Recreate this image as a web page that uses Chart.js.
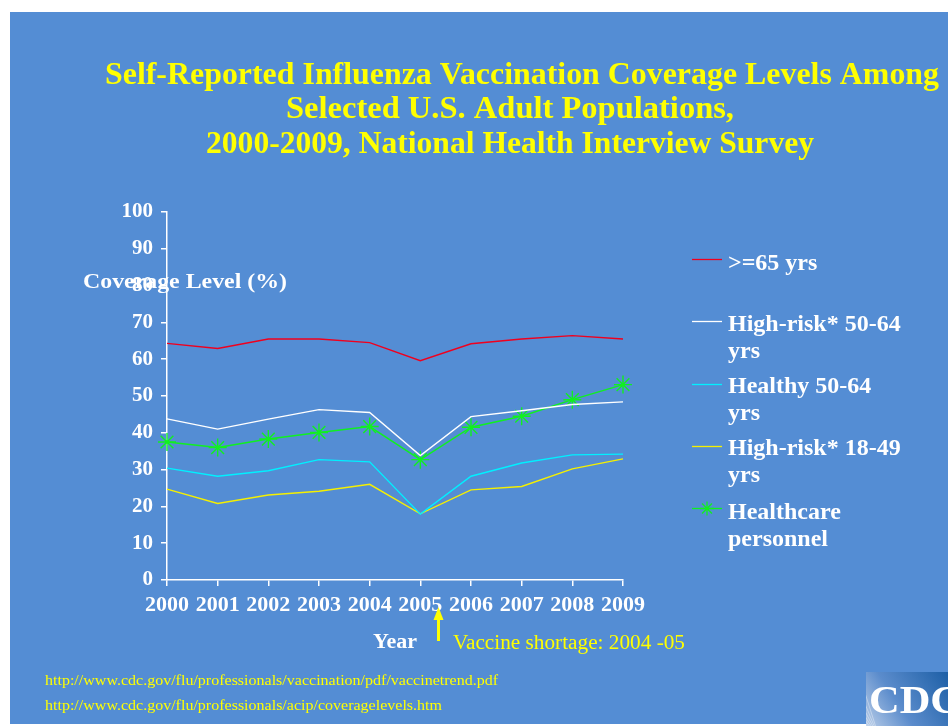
<!DOCTYPE html>
<html>
<head>
<meta charset="utf-8">
<script src="https://cdn.jsdelivr.net/npm/chart.js@4"></script>
<style>
html,body{margin:0;padding:0;background:#fff;}
canvas{display:block;}
</style>
</head>
<body>
<canvas id="c" width="948" height="726" style="width:948px;height:726px"></canvas>
<script>
const years = ['2000','2001','2002','2003','2004','2005','2006','2007','2008','2009'];
const over65 = [64.3, 62.9, 65.5, 65.5, 64.5, 59.6, 64.2, 65.5, 66.4, 65.5];
const highRisk5064 = [43.8, 41.0, 43.7, 46.3, 45.5, 33.8, 44.4, 46.0, 47.7, 48.4];
const healthy5064 = [30.4, 28.2, 29.7, 32.7, 32.1, 17.9, 28.2, 31.8, 34.0, 34.2];
const highRisk1849 = [24.7, 20.8, 23.1, 24.1, 26.0, 18.0, 24.5, 25.4, 30.2, 32.9];
const healthcare = [37.5, 36.0, 38.3, 40.1, 41.7, 32.7, 41.5, 44.5, 49.0, 53.1];
const seriesNames = [['>=65 yrs'], ['High-risk* 50-64','yrs'], ['Healthy 50-64','yrs'], ['High-risk* 18-49','yrs'], ['Healthcare','personnel']];
const titleLines = ['Self-Reported Influenza Vaccination Coverage Levels Among','Selected U.S. Adult Populations,','2000-2009, National Health Interview Survey'];
const yTicks = [0,10,20,30,40,50,60,70,80,90,100];

const BG = '#548DD4';
const SERIF = '"Liberation Serif", "Times New Roman", serif';

function fitText(ctx, text, x, y, font, width, align, color) {
  ctx.save();
  ctx.font = font;
  ctx.fillStyle = color;
  ctx.textBaseline = 'alphabetic';
  const w = ctx.measureText(text).width;
  const s = width ? width / w : 1;
  let x0 = x;
  if (align === 'center') x0 = x - (w * s) / 2;
  else if (align === 'right') x0 = x - w * s;
  ctx.translate(x0, y);
  ctx.scale(s, 1);
  ctx.textAlign = 'left';
  ctx.fillText(text, 0, 0);
  ctx.restore();
}

const decor = {
  id: 'decor',
  beforeDraw(chart) {
    const ctx = chart.ctx;
    ctx.save();
    ctx.fillStyle = '#ffffff';
    ctx.fillRect(0, 0, 948, 726);
    ctx.fillStyle = BG;
    ctx.fillRect(10, 12, 938, 712);
    ctx.restore();
  },
  afterDraw(chart) {
    const ctx = chart.ctx;
    // Title
    fitText(ctx, titleLines[0], 522, 84, 'bold 32px ' + SERIF, 834, 'center', '#FFFF00');
    fitText(ctx, titleLines[1], 510, 118, 'bold 32px ' + SERIF, 448, 'center', '#FFFF00');
    fitText(ctx, titleLines[2], 510, 153, 'bold 32px ' + SERIF, 608, 'center', '#FFFF00');
    // Y axis title
    fitText(ctx, 'Coverage Level (%)', 83, 288, 'bold 22px ' + SERIF, 204, 'left', '#FFFFFF');
    // X axis title
    fitText(ctx, 'Year', 373, 648, 'bold 20px ' + SERIF, 44, 'left', '#FFFFFF');
    // annotation
    fitText(ctx, 'Vaccine shortage: 2004 -05', 453, 649, '20px ' + SERIF, 232, 'left', '#FFFF00');
    // arrow
    ctx.save();
    ctx.strokeStyle = '#FFFF00';
    ctx.fillStyle = '#FFFF00';
    ctx.lineWidth = 3;
    ctx.beginPath();
    ctx.moveTo(438.5, 641);
    ctx.lineTo(438.5, 618);
    ctx.stroke();
    ctx.beginPath();
    ctx.moveTo(438.5, 607);
    ctx.lineTo(433.5, 620);
    ctx.lineTo(443.5, 620);
    ctx.closePath();
    ctx.fill();
    ctx.restore();
    // URLs
    fitText(ctx, 'http://www.cdc.gov/flu/professionals/vaccination/pdf/vaccinetrend.pdf', 45, 685, '14px ' + SERIF, 453, 'left', '#FFFF00');
    fitText(ctx, 'http://www.cdc.gov/flu/professionals/acip/coveragelevels.htm', 45, 710, '14px ' + SERIF, 397, 'left', '#FFFF00');
    // CDC logo
    ctx.save();
    const g = ctx.createLinearGradient(948, 672, 866, 726);
    g.addColorStop(0, '#1d5fa6');
    g.addColorStop(0.6, '#5b8ccc');
    g.addColorStop(1, '#b9cde8');
    ctx.fillStyle = g;
    ctx.fillRect(866, 672, 82, 54);
    ctx.beginPath();
    ctx.rect(866, 672, 82, 54);
    ctx.clip();
    ctx.strokeStyle = 'rgba(255,255,255,0.35)';
    ctx.lineWidth = 1;
    for (let i = 0; i < 14; i++) {
      const a = Math.PI * 1.05 + i * 0.085;
      ctx.beginPath();
      ctx.moveTo(880, 740);
      ctx.lineTo(880 + Math.cos(a) * 120, 740 + Math.sin(a) * 120);
      ctx.stroke();
    }
    ctx.restore();
    fitText(ctx, 'CDC', 869, 713, 'bold 40px ' + SERIF, 92, 'left', '#FFFFFF');
    // Legend
    const ds = chart.data.datasets;
    const legendY = [259, 321, 384, 446, 508];
    const textY = [[270], [331, 358], [393, 420], [455, 482], [519, 546]];
    ds.forEach((d, i) => {
      ctx.save();
      ctx.strokeStyle = d.borderColor;
      ctx.lineWidth = 1.3;
      ctx.beginPath();
      ctx.moveTo(692, legendY[i] + 0.5);
      ctx.lineTo(722, legendY[i] + 0.5);
      ctx.stroke();
      if (d.pointStyle === 'star') {
        const cx = 707, cy = legendY[i] + 0.5, r = 7;
        ctx.beginPath();
        for (let k = 0; k < 4; k++) {
          const a = k * Math.PI / 4;
          ctx.moveTo(cx - Math.cos(a) * r, cy - Math.sin(a) * r);
          ctx.lineTo(cx + Math.cos(a) * r, cy + Math.sin(a) * r);
        }
        ctx.stroke();
      }
      ctx.restore();
      seriesNames[i].forEach((t, j) => {
        ctx.save();
        ctx.font = 'bold 24px ' + SERIF;
        ctx.fillStyle = '#FFFFFF';
        ctx.fillText(t, 728, textY[i][j]);
        ctx.restore();
      });
    });
  }
};

new Chart(document.getElementById('c'), {
  type: 'line',
  data: {
    labels: years,
    datasets: [
      { label: seriesNames[0].join(' '), data: over65, borderColor: '#F0001E', borderWidth: 1.4, pointRadius: 0, tension: 0 },
      { label: seriesNames[1].join(' '), data: highRisk5064, borderColor: '#FFFFFF', borderWidth: 1.4, pointRadius: 0, tension: 0 },
      { label: seriesNames[2].join(' '), data: healthy5064, borderColor: '#00F0FF', borderWidth: 1.4, pointRadius: 0, tension: 0 },
      { label: seriesNames[3].join(' '), data: highRisk1849, borderColor: '#F5F000', borderWidth: 1.4, pointRadius: 0, tension: 0 },
      { label: seriesNames[4].join(' '), data: healthcare, borderColor: '#10F020', borderWidth: 1.4, pointStyle: 'star', pointRadius: 9, pointBorderWidth: 1.4, pointBorderColor: '#10F020', pointBackgroundColor: '#10F020', tension: 0 }
    ]
  },
  plugins: [decor],
  options: {
    responsive: false,
    devicePixelRatio: 1,
    animation: false,
    events: [],
    layout: { padding: { left: 100, right: 325, top: 212, bottom: 106 } },
    plugins: { legend: { display: false }, title: { display: false }, tooltip: { enabled: false } },
    scales: {
      x: {
        type: 'category',
        offset: false,
        afterFit(s) { s.height = 40; },
        border: { color: '#FFFFFF', width: 1.5 },
        grid: { drawOnChartArea: false, drawTicks: true, tickLength: 6, color: '#FFFFFF', lineWidth: 1.5 },
        ticks: { color: '#FFFFFF', font: { family: SERIF, size: 22, weight: 'bold' }, padding: 6, maxRotation: 0, autoSkip: false }
      },
      y: {
        min: 0, max: 100,
        afterFit(s) { s.width = 67; },
        afterBuildTicks(s) { s.ticks = yTicks.map(v => ({ value: v })); },
        border: { color: '#FFFFFF', width: 1.5 },
        grid: { drawOnChartArea: false, drawTicks: true, tickLength: 6, color: '#FFFFFF', lineWidth: 1.5 },
        ticks: { color: '#FFFFFF', font: { family: SERIF, size: 21, weight: 'bold' }, padding: 8 }
      }
    }
  }
});
</script>
</body>
</html>
